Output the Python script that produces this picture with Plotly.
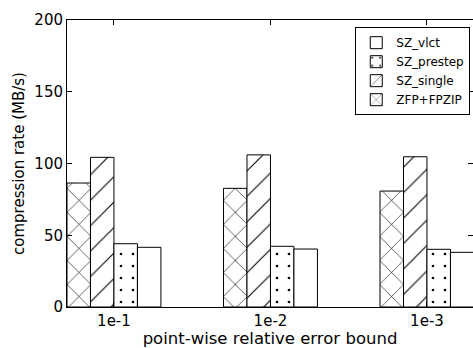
import plotly.graph_objects as go

categories = ["1e-1", "1e-2", "1e-3"]
zfp_fpzip = [86.4, 82.7, 80.8]
sz_single = [104.3, 106.0, 104.7]
sz_prestep = [44.1, 42.3, 40.2]
sz_vlct = [41.6, 40.4, 38.1]

series = [
    ("ZFP+FPZIP", zfp_fpzip, "x", 17, 0.07),
    ("SZ_single", sz_single, "/", 18, 0.06),
    ("SZ_prestep", sz_prestep, ".", 12, 0.04),
    ("SZ_vlct", sz_vlct, "", 10, 0.1),
]

FONT = "DejaVu Sans"
xpos = list(range(len(categories)))
fig = go.Figure()
for name, vals, shape, size, sol in series:
    fig.add_trace(go.Bar(
        name=name, x=xpos, y=vals,
        marker=dict(
            color="white",
            line=dict(color="black", width=1),
            pattern=dict(shape=shape, fgcolor="black", bgcolor="white",
                         fgopacity=1, size=size, solidity=sol,
                         fillmode="overlay"),
        ),
    ))

fig.update_layout(
    width=473, height=348,
    margin=dict(l=67, r=0, t=20, b=41),
    paper_bgcolor="white", plot_bgcolor="white",
    barmode="group", bargap=0.4, bargroupgap=0,
    font=dict(family=FONT, color="black", size=15),
    legend=dict(
        x=0.71, y=0.975, xanchor="left", yanchor="top",
        traceorder="reversed",
        bordercolor="black", borderwidth=1, bgcolor="white",
        font=dict(family=FONT, size=12, color="black"),
        itemwidth=30, tracegroupgap=0,
    ),
    xaxis=dict(
        tickmode="array", tickvals=xpos, ticktext=categories,
        range=[-0.3, 2.294],
        showline=True, linecolor="black", linewidth=1, mirror="ticks",
        ticks="inside", ticklen=5, tickcolor="black",
        showgrid=False, zeroline=False,
        title=dict(text="point-wise relative error bound", standoff=3,
                   font=dict(family=FONT, size=16.5, color="black")),
        tickfont=dict(family=FONT, size=15, color="black"),
    ),
    yaxis=dict(
        range=[0, 200], tickvals=[0, 50, 100, 150, 200],
        showline=True, linecolor="black", linewidth=1, mirror="ticks",
        ticks="inside", ticklen=5, tickcolor="black",
        showgrid=False, zeroline=False,
        title=dict(text="compression rate (MB/s)", standoff=6,
                   font=dict(family=FONT, size=15, color="black")),
        tickfont=dict(family=FONT, size=15, color="black"),
    ),
)

fig.write_html("out.html")
